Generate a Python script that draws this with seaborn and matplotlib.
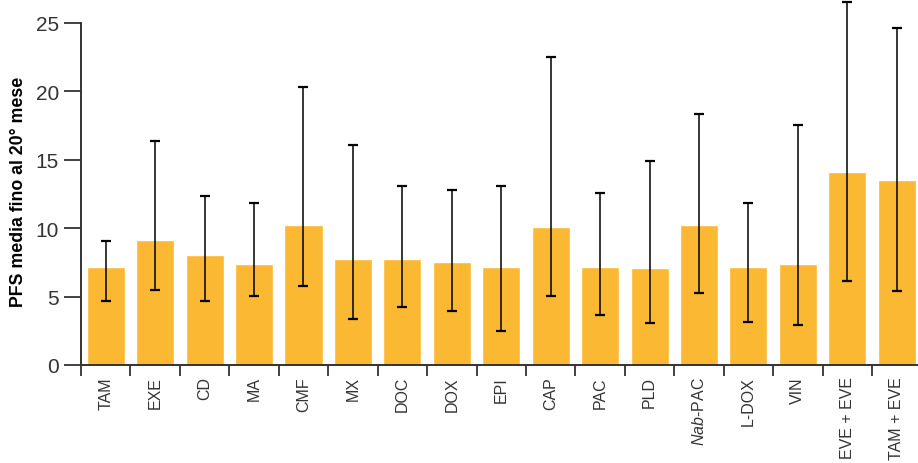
import numpy as np
import pandas as pd
import matplotlib
matplotlib.use("Agg")
import matplotlib.pyplot as plt
from matplotlib import font_manager
from matplotlib.ticker import FixedLocator
import seaborn as sns

# Median PFS up to month 20, with confidence interval bounds
categories = ["TAM", "EXE", "CD", "MA", "CMF", "MX", "DOC", "DOX", "EPI", "CAP",
              "PAC", "PLD", "Nab-PAC", "L-DOX", "VIN", "EVE + EVE", "TAM + EVE"]
pfs = [7.16, 9.14, 8.04, 7.38, 10.23, 7.75, 7.75, 7.53, 7.16, 10.09,
       7.16, 7.09, 10.23, 7.16, 7.38, 14.11, 13.52]
ci_low = [4.70, 5.50, 4.70, 5.07, 5.80, 3.36, 4.26, 3.95, 2.49, 5.07,
          3.68, 3.09, 5.29, 3.17, 2.95, 6.16, 5.43]
ci_high = [9.06, 16.37, 12.38, 11.84, 20.32, 16.10, 13.11, 12.82, 13.11, 22.54,
           12.60, 14.94, 18.37, 11.87, 17.57, 26.54, 24.66]
y_ticks = [0, 5, 10, 15, 20, 25]
y_label = "PFS media fino al 20° mese"

sns.set_theme(style="white")
available = {f.name for f in font_manager.fontManager.ttflist}
narrow = "Liberation Sans Narrow" in available
family = "Liberation Sans Narrow" if narrow else "Liberation Sans"
plt.rcParams["font.family"] = [family, "DejaVu Sans"]
plt.rcParams["mathtext.fontset"] = "custom"
plt.rcParams["mathtext.rm"] = family
plt.rcParams["mathtext.it"] = family + ":italic"

text_color = "#333333"
bar_color = "#FBB833"
xlabel_size = 13.5 if narrow else 11.5

df = pd.DataFrame({"cat": categories, "pfs": pfs})

fig = plt.figure(figsize=(9.18, 4.64), dpi=100)
ax = fig.add_axes([81 / 918, 98 / 464, 837 / 918, 366 / 464])

sns.barplot(data=df, x="cat", y="pfs", color=bar_color, saturation=1,
            width=0.77, ax=ax, errorbar=None)

x = np.arange(len(categories))
vals = np.array(pfs)
yerr = np.vstack([vals - np.array(ci_low), np.array(ci_high) - vals])
ax.errorbar(x, vals, yerr=yerr, fmt="none", ecolor="black", elinewidth=1.1,
            capsize=3.3, capthick=1.6, clip_on=False, zorder=5)

ax.set_xlim(-0.5, 16.43)
ax.set_ylim(0, 26.75)

# Category labels at centres, tick marks at category boundaries
labels = [r"$\it{Nab}$-PAC" if c == "Nab-PAC" else c for c in categories]
ax.set_xticks(x)
ax.set_xticklabels(labels, rotation=90, fontsize=xlabel_size, color=text_color)
ax.xaxis.set_minor_locator(FixedLocator(np.arange(-0.5, 16.6, 1.0)))
ax.tick_params(axis="x", which="major", length=0, pad=8)
ax.tick_params(axis="x", which="minor", length=8, width=1.3, color=text_color,
               direction="out", bottom=True)

ax.set_yticks(y_ticks)
ax.set_yticklabels([str(t) for t in y_ticks], fontsize=15, color=text_color)
ax.tick_params(axis="y", length=12, width=1.3, color=text_color, direction="out",
               left=True, pad=4)

ax.set_xlabel("")
ax.set_ylabel(y_label, fontsize=12.8, fontweight="bold", color="black")
ax.yaxis.set_label_coords(-0.064, 0.475)

for side in ["top", "right"]:
    ax.spines[side].set_visible(False)
for side in ["left", "bottom"]:
    ax.spines[side].set_color(text_color)
    ax.spines[side].set_linewidth(1.4)
ax.spines["left"].set_bounds(0, 25)

fig.savefig("out.png", dpi=100)
